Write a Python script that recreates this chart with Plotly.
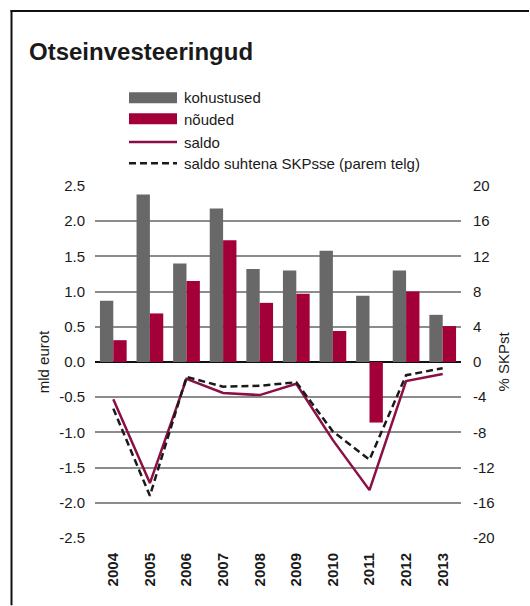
import plotly.graph_objects as go

years = ["2004", "2005", "2006", "2007", "2008", "2009", "2010", "2011", "2012", "2013"]
kohustused = [0.87, 2.38, 1.40, 2.18, 1.32, 1.30, 1.58, 0.94, 1.30, 0.67]
nouded = [0.31, 0.69, 1.15, 1.73, 0.84, 0.97, 0.44, -0.86, 1.00, 0.51]
saldo = [-0.53, -1.72, -0.24, -0.44, -0.47, -0.31, -1.11, -1.82, -0.27, -0.17]
saldo_skp = [-5.3, -15.2, -1.7, -2.8, -2.7, -2.3, -7.9, -11.1, -1.5, -0.7]

left_ticks = [-2.5, -2.0, -1.5, -1.0, -0.5, 0.0, 0.5, 1.0, 1.5, 2.0, 2.5]
left_labels = ["-2.5", "-2.0", "-1.5", "-1.0", "-0.5", "0.0", "0.5", "1.0", "1.5", "2.0", "2.5"]
right_ticks = [-20, -16, -12, -8, -4, 0, 4, 8, 12, 16, 20]
right_labels = ["-20", "-16", "-12", "-8", "-4", "0", "4", "8", "12", "16", "20"]

GRAY = "#686868"
RED = "#A3003A"
LINE = "#8A0F45"
FONT = "Liberation Sans, Arial, Helvetica, sans-serif"
TXT = "#1a1a1a"

W, H = 530, 606
L, R, T, B = 95, 461, 185.7, 537.7


def px(x):
    return (x - L) / (R - L)


def py(y):
    return (B - y) / (B - T)


fig = go.Figure()
fig.add_trace(go.Bar(x=years, y=kohustused, name="kohustused", marker=dict(color=GRAY, line=dict(width=0))))
fig.add_trace(go.Bar(x=years, y=nouded, name="nõuded", marker=dict(color=RED, line=dict(width=0))))
fig.add_trace(go.Scatter(x=years, y=saldo, name="saldo", mode="lines", line=dict(color=LINE, width=2.5)))
fig.add_trace(go.Scatter(x=years, y=saldo_skp, name="saldo suhtena SKPsse (parem telg)", mode="lines",
                         yaxis="y2", line=dict(color="#1a1a1a", width=2.5, dash="7px,4px")))

shapes = []
annotations = []

# frame (top edge and left edge as thin filled rects)
shapes.append(dict(type="rect", xref="paper", yref="paper", x0=px(10.5), x1=px(529), y0=py(11.7), y1=py(9.7),
                   fillcolor="#111", line=dict(width=0)))
shapes.append(dict(type="rect", xref="paper", yref="paper", x0=px(10.5), x1=px(12.5), y0=py(9.7), y1=py(605),
                   fillcolor="#111", line=dict(width=0)))

# legend
lx0, lx1, tx = 129, 177, 182
rows = [97.5, 118.7, 141.7, 163]
shapes.append(dict(type="rect", xref="paper", yref="paper", x0=px(lx0), x1=px(lx1), y0=py(92), y1=py(103),
                   fillcolor=GRAY, line=dict(width=0)))
shapes.append(dict(type="rect", xref="paper", yref="paper", x0=px(lx0), x1=px(lx1), y0=py(113), y1=py(124),
                   fillcolor=RED, line=dict(width=0)))
shapes.append(dict(type="line", xref="paper", yref="paper", x0=px(lx0), x1=px(lx1), y0=py(rows[2]), y1=py(rows[2]),
                   line=dict(color=LINE, width=2.5)))
shapes.append(dict(type="line", xref="paper", yref="paper", x0=px(lx0), x1=px(lx1), y0=py(rows[3]), y1=py(rows[3]),
                   line=dict(color="#1a1a1a", width=2.5, dash="7px,4px")))
names = ["kohustused", "nõuded", "saldo", "saldo suhtena SKPsse (parem telg)"]
for name, ry in zip(names, rows):
    annotations.append(dict(text=name, xref="paper", yref="paper", x=px(tx), y=py(ry), xanchor="left",
                            yanchor="middle", showarrow=False, font=dict(size=15, color=TXT, family=FONT)))

# title
annotations.append(dict(text="<b>Otseinvesteeringud</b>", xref="paper", yref="paper", x=px(27), y=py(51),
                        xanchor="left", yanchor="middle", showarrow=False,
                        font=dict(size=24, color=TXT, family=FONT)))

fig.update_layout(
    width=W, height=H,
    margin=dict(l=L, r=W - R, t=T, b=H - B, pad=0),
    paper_bgcolor="white", plot_bgcolor="white",
    barmode="group", bargap=0.27, bargroupgap=0,
    showlegend=False,
    font=dict(family=FONT, size=15, color=TXT),
    shapes=shapes, annotations=annotations,
    xaxis=dict(type="category", tickangle=-90, tickfont=dict(size=15, family=FONT, color=TXT),
               tickprefix="<b>", ticksuffix="</b>", showgrid=False, showline=False, zeroline=False,
               ticks="outside", ticklen=8, tickcolor="rgba(0,0,0,0)"),
    yaxis=dict(range=[-2.5, 2.5], tickvals=left_ticks, ticktext=left_labels, showgrid=True, gridcolor="#8c8c8c",
               gridwidth=1.5, zeroline=True, zerolinecolor="#111", zerolinewidth=1.5, showline=False,
               ticks="outside", ticklen=6, tickcolor="rgba(0,0,0,0)",
               title=dict(text="mld eurot", font=dict(size=15, family=FONT, color=TXT), standoff=5)),
    yaxis2=dict(range=[-20, 20], tickvals=right_ticks, ticktext=right_labels, overlaying="y", side="right",
                showgrid=False, zeroline=False, showline=False, ticks="outside", ticklen=8,
                tickcolor="rgba(0,0,0,0)",
                title=dict(text="% SKPst", font=dict(size=15, family=FONT, color=TXT), standoff=4)),
)

fig.write_html("out.html", config={"displayModeBar": False},
               post_script="document.body.style.margin='0';document.body.style.padding='0';"
                           "document.body.style.overflow='hidden';"
                           "document.documentElement.style.overflow='hidden';")
